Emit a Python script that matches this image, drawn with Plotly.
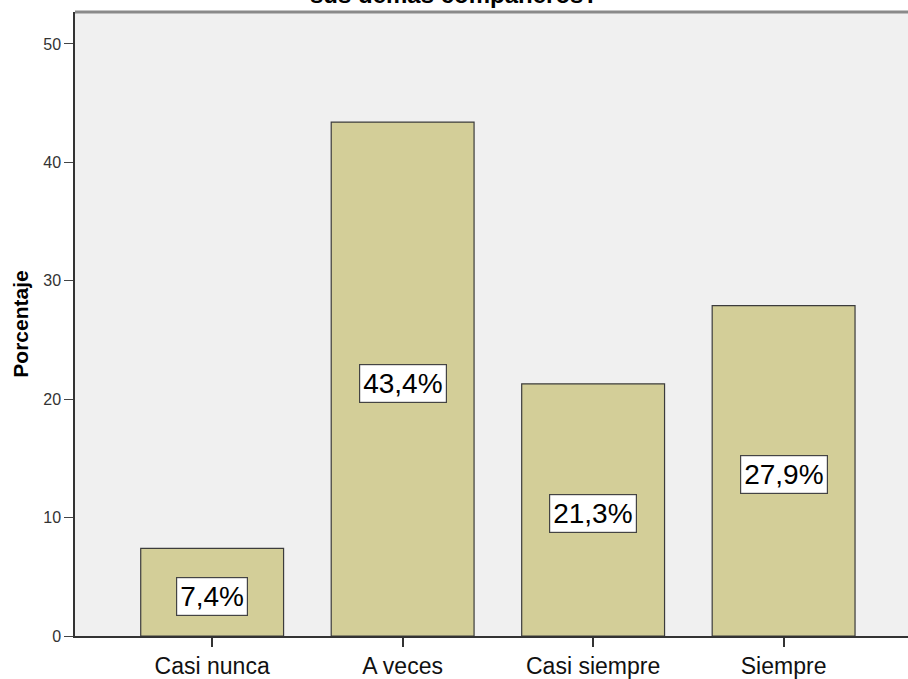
import plotly.graph_objects as go

categories = ["Casi nunca", "A veces", "Casi siempre", "Siempre"]
values = [7.4, 43.4, 21.3, 27.9]
value_labels = ["7,4%", "43,4%", "21,3%", "27,9%"]
y_ticks = [0, 10, 20, 30, 40, 50]
title_text = "sus demás compañeros?"
y_title = "Porcentaje"

fig = go.Figure()
fig.add_trace(go.Bar(
    x=list(range(len(categories))), y=values, width=0.75,
    marker=dict(color="#D3CE98", line=dict(color="#3c3c3c", width=1.2)),
    hoverinfo="skip",
))

for i, (v, lab) in enumerate(zip(values, value_labels)):
    fig.add_annotation(
        x=i, y=v / 2, xref="x", yref="y", text=lab, showarrow=False,
        font=dict(family="Liberation Sans, Arial", size=28, color="#000000"),
        bgcolor="#FFFFFF", bordercolor="#444444", borderwidth=1.2, borderpad=3,
        yshift=-4,
    )

fig.add_annotation(
    x=0.455, y=1.0, xref="paper", yref="paper", xanchor="center", yanchor="bottom",
    text=f"<b>{title_text}</b>", showarrow=False, yshift=2,
    font=dict(family="Liberation Sans, Arial", size=24, color="#000000"),
)
# separator under title
fig.add_shape(type="line", xref="paper", yref="paper", x0=0, x1=1, y0=1, y1=1,
              line=dict(color="#8a8a8a", width=3))

fig.update_layout(
    width=908, height=679,
    margin=dict(l=75, r=0, t=12, b=43),
    paper_bgcolor="#FFFFFF", plot_bgcolor="#F0F0F0",
    showlegend=False,
    xaxis=dict(
        range=[-0.72, 3.653], tickmode="array",
        tickvals=list(range(len(categories))), ticktext=categories,
        showgrid=False, zeroline=False, showline=True, linecolor="#333333", linewidth=1.5,
        ticks="outside", ticklen=9, tickcolor="#333333", tickwidth=1.5,
        tickfont=dict(family="Liberation Sans, Arial", size=23, color="#111111"),
    ),
    yaxis=dict(
        range=[0, 52.7], tickvals=y_ticks,
        showgrid=False, zeroline=False, showline=True, linecolor="#333333", linewidth=1.5,
        ticks="outside", ticklen=9, tickcolor="#444444", tickwidth=1.2,
        tickfont=dict(family="Liberation Sans, Arial", size=16, color="#333333"),
        title=dict(text=f"<b>{y_title}</b>", standoff=9,
                   font=dict(family="Liberation Sans, Arial", size=21, color="#000000")),
    ),
)

fig.write_html("out.html")
